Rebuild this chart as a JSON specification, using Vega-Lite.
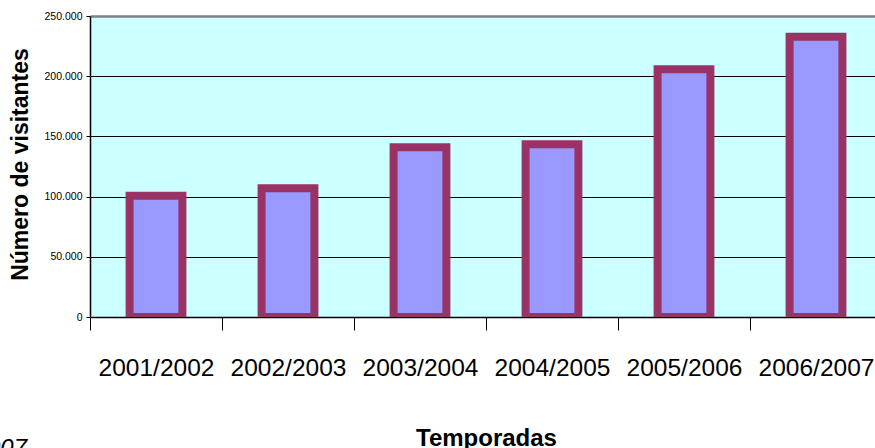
{
  "$schema": "https://vega.github.io/schema/vega-lite/v6.json",
  "width": 785,
  "height": 301,
  "autosize": {"type": "none"},
  "padding": {"left": 90, "top": 16, "right": 0, "bottom": 131},
  "background": "white",
  "title": {
    "text": "Temporada 2006/2007",
    "orient": "bottom",
    "anchor": "start",
    "frame": "group",
    "align": "right",
    "baseline": "alphabetic",
    "dx": -63,
    "dy": 2,
    "fontSize": 24,
    "fontStyle": "italic",
    "fontWeight": "normal",
    "color": "#000000",
    "font": "Liberation Sans"
  },
  "data": {
    "values": [
      {"temporada": "2001/2002", "visitantes": 100800},
      {"temporada": "2002/2003", "visitantes": 107000},
      {"temporada": "2003/2004", "visitantes": 140900},
      {"temporada": "2004/2005", "visitantes": 143400},
      {"temporada": "2005/2006", "visitantes": 205700},
      {"temporada": "2006/2007", "visitantes": 232800}
    ]
  },
  "mark": {
    "type": "bar",
    "fill": "#9999FF",
    "stroke": "#993366",
    "strokeWidth": 8,
    "width": {"band": 0.4},
    "clip": true
  },
  "encoding": {
    "x": {
      "field": "temporada",
      "type": "nominal",
      "sort": null,
      "scale": {"range": [0, 792], "paddingInner": 0, "paddingOuter": 0},
      "axis": {
        "title": "Temporadas",
        "titleFontSize": 24,
        "titleFontWeight": "bold",
        "titleColor": "#000000",
        "titleX": 396,
        "titleY": 128,
        "titleBaseline": "alphabetic",
        "labelFontSize": 24.5,
        "labelAngle": 0,
        "labelPadding": 26,
        "labelColor": "#000000",
        "tickBand": "extent",
        "tickSize": 13,
        "tickColor": "#000000",
        "domainColor": "#000000",
        "domainWidth": 1.5,
        "grid": false
      }
    },
    "y": {
      "field": "visitantes",
      "type": "quantitative",
      "scale": {"domain": [0, 250000], "nice": false},
      "axis": {
        "title": "Número de visitantes",
        "titleFontSize": 23,
        "titleFontWeight": "bold",
        "titleColor": "#000000",
        "titleAngle": -90,
        "titleX": -63,
        "titleY": 148,
        "titleBaseline": "alphabetic",
        "titleAlign": "center",
        "values": [0, 50000, 100000, 150000, 200000, 250000],
        "format": ",.0f",
        "labelFontSize": 10.5,
        "labelPadding": 4,
        "labelColor": "#000000",
        "tickSize": 4,
        "tickColor": "#000000",
        "domainColor": "#000000",
        "domainWidth": 1.5,
        "grid": true,
        "gridColor": {"condition": {"test": "datum.value >= 250000", "value": "#808080"}, "value": "#000000"},
        "gridWidth": {"condition": {"test": "datum.value >= 250000", "value": 2.5}, "value": 1}
      }
    }
  },
  "config": {
    "font": "Liberation Sans",
    "view": {"fill": "#CCFFFF", "stroke": null},
    "locale": {
      "number": {"decimal": ",", "thousands": ".", "grouping": [3], "currency": ["", " €"]}
    }
  }
}
